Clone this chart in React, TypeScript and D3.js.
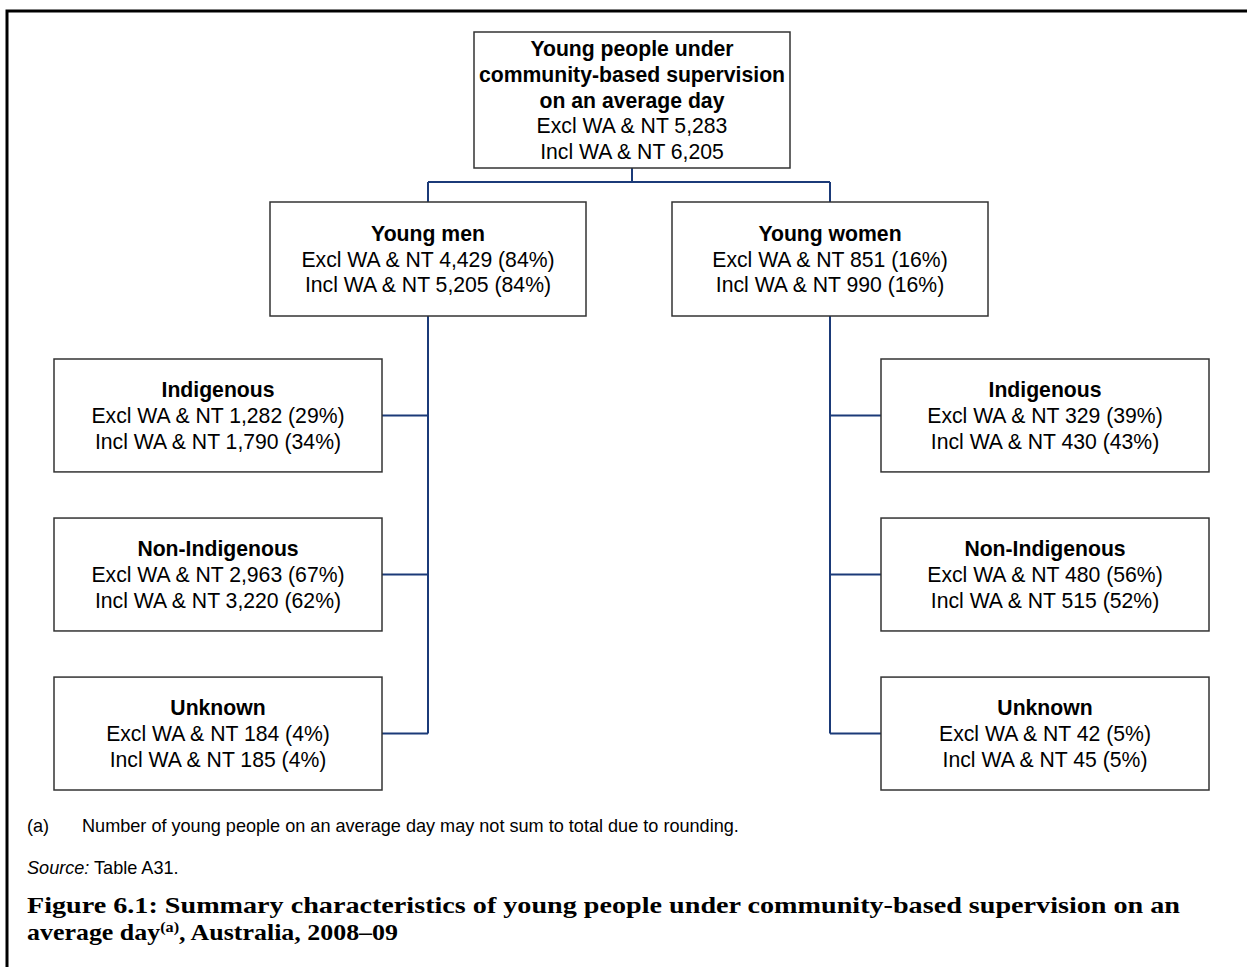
import React, { useEffect, useRef } from 'react';
import * as d3 from 'd3';

// Top node
const totalTitle = ['Young people under', 'community-based supervision', 'on an average day'];
const totalExcl = 5283;
const totalIncl = 6205;

// Sex split
const sexes = ['Young men', 'Young women'];
const sexExcl = [4429, 851];
const sexExclPct = [84, 16];
const sexIncl = [5205, 990];
const sexInclPct = [84, 16];

// Indigenous status within each sex
const groups = ['Indigenous', 'Non-Indigenous', 'Unknown'];
const menExcl = [1282, 2963, 184];
const menExclPct = [29, 67, 4];
const menIncl = [1790, 3220, 185];
const menInclPct = [34, 62, 4];
const womenExcl = [329, 480, 42];
const womenExclPct = [39, 56, 5];
const womenIncl = [430, 515, 45];
const womenInclPct = [43, 52, 5];

const footnote = 'Number of young people on an average day may not sum to total due to rounding.';
const source = 'Table A31.';
const figTitle1 = 'Figure 6.1: Summary characteristics of young people under community-based supervision on an';

const W = 1247;
const H = 967;
const fmt = d3.format(',');

const App: React.FC = () => {
  const svgRef = useRef<SVGSVGElement | null>(null);

  useEffect(() => {
    const svg = d3.select(svgRef.current);
    svg.selectAll('*').remove();

    const boxStroke = '#333';
    const linkColor = '#1b3a78';
    const fs = 21.2;
    const lh = 25.8;
    const sans = "'Liberation Sans', Arial, sans-serif";

    // outer frame
    svg.append('path')
      .attr('d', `M7,${H} V11 H${W}`)
      .attr('fill', 'none')
      .attr('stroke', '#000')
      .attr('stroke-width', 3);

    // layout scales
    const colX = d3.scalePoint<string>().domain(['men', 'total', 'women']).range([428, 830]).padding(0);
    const rowY = d3.scaleBand<string>().domain(groups).range([359, 790]).paddingInner(0.29);
    const leafW = 328;
    const midW = 316;
    const midTop = 202;
    const midH = 114;
    const topBox = { x: 474, y: 32, w: 316, h: 136 };
    const barY = 182;

    const drawBox = (x: number, y: number, w: number, h: number, lines: { t: string; bold?: boolean }[]) => {
      const g = svg.append('g');
      g.append('rect')
        .attr('x', x).attr('y', y).attr('width', w).attr('height', h)
        .attr('fill', '#fff').attr('stroke', boxStroke).attr('stroke-width', 1.5);
      const cy = y + h / 2;
      const n = lines.length;
      g.selectAll('text')
        .data(lines)
        .join('text')
        .attr('x', x + w / 2)
        .attr('y', (_, i) => cy + (i - (n - 1) / 2) * lh + fs * 0.36)
        .attr('text-anchor', 'middle')
        .attr('font-family', sans)
        .attr('font-size', fs)
        .attr('font-weight', (d) => (d.bold ? 'bold' : 'normal'))
        .attr('fill', '#000')
        .text((d) => d.t);
    };

    const link = (d: string) =>
      svg.append('path').attr('d', d).attr('fill', 'none')
        .attr('stroke', linkColor).attr('stroke-width', 2);

    // connectors
    const topCx = topBox.x + topBox.w / 2;
    link(`M${topCx},${topBox.y + topBox.h} V${barY}`);
    link(`M${colX('men')},${barY} H${colX('women')}`);
    link(`M${colX('men')},${barY} V${midTop}`);
    link(`M${colX('women')},${barY} V${midTop}`);
    const lastMid = (rowY(groups[groups.length - 1]) as number) + rowY.bandwidth() / 2;
    link(`M${colX('men')},${midTop + midH} V${lastMid}`);
    link(`M${colX('women')},${midTop + midH} V${lastMid}`);
    const leftX = 54;
    const rightX = 881;
    groups.forEach((g) => {
      const cy = (rowY(g) as number) + rowY.bandwidth() / 2;
      link(`M${leftX + leafW},${cy} H${colX('men')}`);
      link(`M${colX('women')},${cy} H${rightX}`);
    });

    // top box
    drawBox(topBox.x, topBox.y, topBox.w, topBox.h, [
      ...totalTitle.map((t) => ({ t, bold: true })),
      { t: `Excl WA & NT ${fmt(totalExcl)}` },
      { t: `Incl WA & NT ${fmt(totalIncl)}` },
    ]);

    // sex boxes
    sexes.forEach((s, i) => {
      const cx = (i === 0 ? colX('men') : colX('women')) as number;
      drawBox(cx - midW / 2, midTop, midW, midH, [
        { t: s, bold: true },
        { t: `Excl WA & NT ${fmt(sexExcl[i])} (${sexExclPct[i]}%)` },
        { t: `Incl WA & NT ${fmt(sexIncl[i])} (${sexInclPct[i]}%)` },
      ]);
    });

    // leaf boxes
    groups.forEach((g, i) => {
      const y = rowY(g) as number;
      const h = rowY.bandwidth();
      drawBox(leftX, y, leafW, h, [
        { t: g, bold: true },
        { t: `Excl WA & NT ${fmt(menExcl[i])} (${menExclPct[i]}%)` },
        { t: `Incl WA & NT ${fmt(menIncl[i])} (${menInclPct[i]}%)` },
      ]);
      drawBox(rightX, y, leafW, h, [
        { t: g, bold: true },
        { t: `Excl WA & NT ${fmt(womenExcl[i])} (${womenExclPct[i]}%)` },
        { t: `Incl WA & NT ${fmt(womenIncl[i])} (${womenInclPct[i]}%)` },
      ]);
    });

    // notes
    const nfs = 18.1;
    svg.append('text').attr('x', 27).attr('y', 832)
      .attr('font-family', sans).attr('font-size', nfs).text('(a)');
    svg.append('text').attr('x', 82).attr('y', 832)
      .attr('font-family', sans).attr('font-size', nfs).text(footnote);
    const src = svg.append('text').attr('x', 27).attr('y', 874)
      .attr('font-family', sans).attr('font-size', nfs);
    src.append('tspan').attr('font-style', 'italic').text('Source:');
    src.append('tspan').text(` ${source}`);

    // figure title
    const titleFont = "'Liberation Serif', 'DejaVu Serif', serif";
    svg.append('text').attr('x', 27).attr('y', 913)
      .attr('font-family', titleFont).attr('font-size', 24).attr('font-weight', 'bold')
      .attr('textLength', 1153).attr('lengthAdjust', 'spacingAndGlyphs')
      .text(figTitle1);
    const t2 = svg.append('text').attr('x', 27).attr('y', 940)
      .attr('font-family', titleFont).attr('font-size', 24).attr('font-weight', 'bold')
      .attr('textLength', 371).attr('lengthAdjust', 'spacingAndGlyphs');
    t2.append('tspan').text('average day');
    t2.append('tspan').attr('font-size', 15).attr('dy', -8).text('(a)');
    t2.append('tspan').attr('dy', 8).text(', Australia, 2008–09');
  }, []);

  return (
    <svg
      ref={svgRef}
      width={W}
      height={H}
      style={{ position: 'absolute', left: 0, top: 0, background: '#fff' }}
    />
  );
};

export default App;
